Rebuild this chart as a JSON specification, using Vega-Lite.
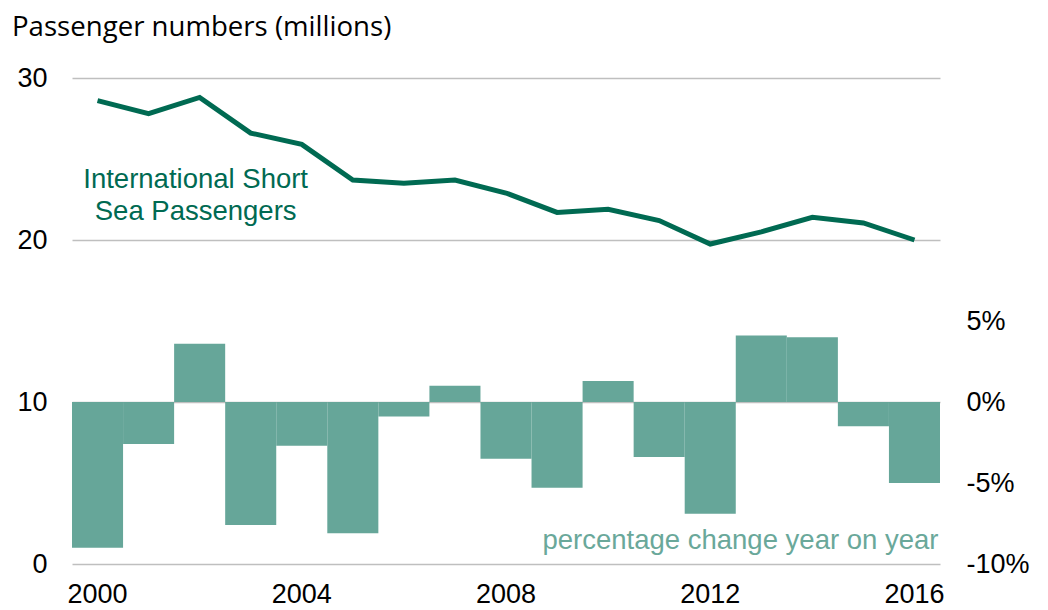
{
  "$schema": "https://vega.github.io/schema/vega-lite/v6.json",
  "width": 868,
  "height": 486,
  "autosize": {"type": "none"},
  "padding": {"left": 72, "top": 78, "right": 108, "bottom": 46},
  "background": "white",
  "config": {
    "view": {"stroke": null},
    "axis": {"labelFont": "Arial", "labelFontSize": 27, "labelColor": "#000000", "domain": false, "ticks": false, "title": null}
  },
  "title": {
    "text": "Passenger numbers (millions)",
    "anchor": "start",
    "frame": "group",
    "font": "Open Sans",
    "fontSize": 27.6,
    "fontWeight": "normal",
    "color": "#000000",
    "dx": -60,
    "offset": 22
  },
  "datasets": {
    "series": [
      {"year": 2000, "passengers": 28.6, "pct": -9.0},
      {"year": 2001, "passengers": 27.8, "pct": -2.6},
      {"year": 2002, "passengers": 28.8, "pct": 3.6},
      {"year": 2003, "passengers": 26.6, "pct": -7.6},
      {"year": 2004, "passengers": 25.9, "pct": -2.7},
      {"year": 2005, "passengers": 23.7, "pct": -8.1},
      {"year": 2006, "passengers": 23.5, "pct": -0.9},
      {"year": 2007, "passengers": 23.7, "pct": 1.0},
      {"year": 2008, "passengers": 22.9, "pct": -3.5},
      {"year": 2009, "passengers": 21.7, "pct": -5.3},
      {"year": 2010, "passengers": 21.9, "pct": 1.3},
      {"year": 2011, "passengers": 21.2, "pct": -3.4},
      {"year": 2012, "passengers": 19.75, "pct": -6.9},
      {"year": 2013, "passengers": 20.5, "pct": 4.1},
      {"year": 2014, "passengers": 21.4, "pct": 4.0},
      {"year": 2015, "passengers": 21.05, "pct": -1.5},
      {"year": 2016, "passengers": 20.0, "pct": -5.0}
    ],
    "labels": [
      {"year": 2002, "value": 23.7, "text": "International  Short"},
      {"year": 2002, "value": 21.7, "text": "Sea Passengers"}
    ],
    "barlabel": [
      {"year": 2016, "value": -8.6, "text": "percentage  change  year  on  year"}
    ]
  },
  "encoding": {
    "x": {
      "field": "year",
      "type": "ordinal",
      "scale": {"paddingInner": 0, "paddingOuter": 0},
      "axis": {"values": [2000, 2004, 2008, 2012, 2016], "labelAngle": 0, "labelPadding": 17, "grid": false}
    }
  },
  "layer": [
    {
      "data": {"name": "series"},
      "mark": {"type": "line", "opacity": 0},
      "encoding": {
        "y": {
          "field": "passengers",
          "type": "quantitative",
          "scale": {"domain": [0, 30], "nice": false, "zero": false},
          "axis": {"orient": "left", "values": [0, 10, 20, 30], "grid": true, "gridColor": "#BFBFBF", "gridWidth": 1.5, "labelPadding": 25}
        }
      }
    },
    {
      "data": {"name": "series"},
      "mark": {"type": "bar", "color": "#66A699"},
      "encoding": {
        "y": {
          "field": "pct",
          "type": "quantitative",
          "scale": {"domain": [-10, 20], "nice": false},
          "axis": {"orient": "right", "values": [-10, -5, 0, 5], "labelExpr": "datum.value + '%'", "grid": false, "labelPadding": 26}
        }
      }
    },
    {
      "data": {"name": "series"},
      "mark": {"type": "line", "color": "#006A52", "strokeWidth": 5},
      "encoding": {
        "y": {"field": "passengers", "type": "quantitative", "scale": {"domain": [0, 30], "nice": false, "zero": false}, "axis": null}
      }
    },
    {
      "data": {"name": "labels"},
      "mark": {"type": "text", "font": "Arial", "fontSize": 27.5, "color": "#006A52", "align": "center", "baseline": "middle", "dx": -4},
      "encoding": {
        "y": {"field": "value", "type": "quantitative", "scale": {"domain": [0, 30], "nice": false, "zero": false}, "axis": null},
        "text": {"field": "text"}
      }
    },
    {
      "data": {"name": "barlabel"},
      "mark": {"type": "text", "font": "Arial", "fontSize": 27.5, "color": "#6AA89A", "align": "right", "baseline": "middle", "dx": 24},
      "encoding": {
        "y": {"field": "value", "type": "quantitative", "scale": {"domain": [-10, 20], "nice": false}, "axis": null},
        "text": {"field": "text"}
      }
    }
  ],
  "resolve": {"scale": {"y": "independent"}}
}
